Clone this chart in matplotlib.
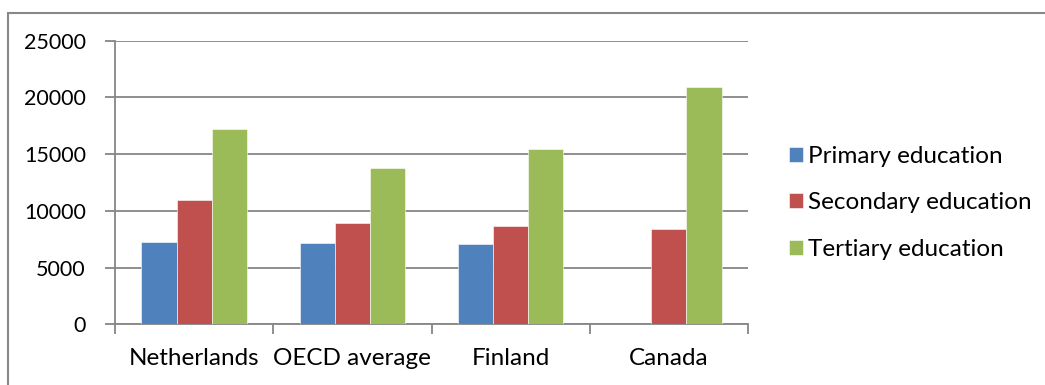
import numpy as np
import matplotlib
matplotlib.use("Agg")
import matplotlib.pyplot as plt
from matplotlib.patches import Rectangle

countries = ["Netherlands", "OECD average", "Finland", "Canada"]
series = ["Primary education", "Secondary education", "Tertiary education"]
primary = [7230, 7140, 7080, np.nan]
secondary = [10960, 8960, 8670, 8370]
tertiary = [17250, 13750, 15420, 20920]
colors = ["#4F81BD", "#C0504D", "#9BBB59"]
yticks = [0, 5000, 10000, 15000, 20000, 25000]

plt.rcParams['font.family'] = ['Lato', 'DejaVu Sans']
fig = plt.figure(figsize=(10.45, 3.85), dpi=100)

# outer chart frame, cut off at the right and bottom
fig.patches.append(Rectangle((8 / 1045, -0.1), 1.2, 1 - 12.5 / 385 + 0.1,
                             transform=fig.transFigure, fill=False,
                             edgecolor="#888888", linewidth=1.5))

ax = fig.add_axes([115 / 1045, 1 - 324.3 / 385, 633 / 1045, 283.6 / 385])
x = np.arange(len(countries))
w = 1 / 4.5
for i, (vals, lab) in enumerate(zip([primary, secondary, tertiary], series)):
    ax.bar(x + (i - 1) * w, vals, w, color=colors[i], label=lab,
           edgecolor="white", linewidth=0.4, zorder=3)

ax.set_xlim(-0.5, len(countries) - 0.5)
ax.set_ylim(0, 25000)
ax.set_yticks(yticks)
ax.set_yticklabels([str(v) for v in yticks], fontsize=15.5)
ax.set_xticks(x)
ax.set_xticklabels(countries, fontsize=17.5)
ax.tick_params(axis="x", length=0, pad=17)
ax.tick_params(axis="y", length=7, color="#868686", width=1.3, pad=14)
# category separators on the x axis
ax.set_xticks(np.arange(len(countries) + 1) - 0.5, minor=True)
ax.tick_params(axis="x", which="minor", length=7, color="#868686", width=1.3)
ax.grid(axis="y", color="#868686", linewidth=1.3, zorder=0)
for s in ["top", "right"]:
    ax.spines[s].set_visible(False)
for s in ["left", "bottom"]:
    ax.spines[s].set_color("#868686")
    ax.spines[s].set_linewidth(1.3)

ax.legend(loc="center left", bbox_to_anchor=(779 / 1045, 1 - 203 / 385),
          bbox_transform=fig.transFigure, frameon=False, fontsize=17.5,
          handlelength=0.58, handleheight=0.58, handletextpad=0.2,
          labelspacing=1.05, borderaxespad=0)

fig.savefig("out.png", dpi=100)
